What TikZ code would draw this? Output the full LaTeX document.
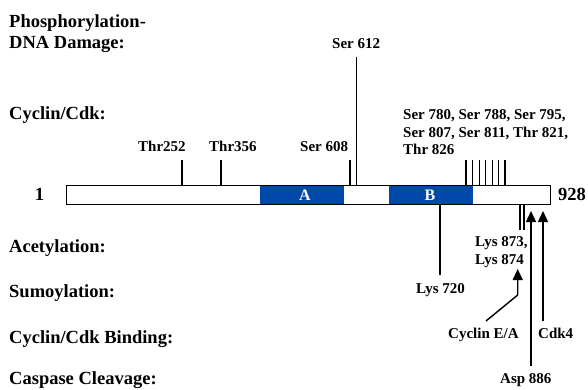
\documentclass[tikz,border=0pt]{standalone}
\usepackage{fontspec}
\setmainfont{Liberation Serif}
\usetikzlibrary{arrows.meta}
\definecolor{domainblue}{RGB}{0,72,170}
\tikzset{
  big/.style={font=\bfseries\fontsize{18.5}{21}\selectfont, inner sep=0pt, anchor=base west},
  small/.style={font=\bfseries\fontsize{15}{17.5}\selectfont, inner sep=0pt},
  tick/.style={line width=1.4pt},
  protbox/.style={fill=domainblue, inner sep=0pt, minimum height=19pt, anchor=north west},
  boxlab/.style={text=white, font=\bfseries\fontsize{16}{18}\selectfont, inner sep=0pt, anchor=base},
  arr/.style={line width=1.4pt, -{Triangle[length=11pt,width=10pt]}}
}
\begin{document}
\begin{tikzpicture}[x=1pt,y=-1pt]
\useasboundingbox (0,0) rectangle (588,389);
% left labels
\node[big] (phos) at (9,27) {Phosphorylation-};
\node[big] (dna) at (9,48) {DNA Damage:};
\node[big] (cdk) at (9,119) {Cyclin/Cdk:};
\node[big] (acet) at (9,252) {Acetylation:};
\node[big] (sumo) at (9,297) {Sumoylation:};
\node[big] (bind) at (9,343) {Cyclin/Cdk Binding:};
\node[big] (casp) at (9,384.5) {Caspase Cleavage:};
% bar and domains
\node[protbox, minimum width=84pt] (A) at (260,185) {};
\node[protbox, minimum width=84pt] (B) at (389,185) {};
\node[boxlab] (Alab) at (305,200) {A};
\node[boxlab] (Blab) at (430,200) {B};
\node[draw, line width=1.3pt, minimum width=484pt, minimum height=19pt, inner sep=0pt, anchor=north west] (bar) at (66,185) {};
\node[big, anchor=base] (one) at (39.5,200) {1};
\node[big] (end) at (558,200) {928};
% upper ticks
\foreach \n/\x/\t in {t252/182/160, t356/221/160, s608/350/160, s612/356.7/57,
  m1/466/160, m2/472.7/160, m3/479.3/160, m4/485.7/160, m5/492.3/160, m6/498.7/160, m7/505/160} {
  \coordinate (\n-b) at (\x,185);
  \coordinate (\n-t) at (\x,\t);
  \draw[tick] (\n-b) -- (\n-t);
}
\node[small, anchor=base west] (lt252) at (138,151) {Thr252};
\node[small, anchor=base west] (lt356) at (209,151) {Thr356};
\node[small, anchor=base west] (ls608) at (300,151) {Ser 608};
\node[small, anchor=base west] (ls612) at (332,48) {Ser 612};
\node[small, anchor=north west, align=left] (lmulti) at (403,109.7) {Ser 780, Ser 788, Ser 795,\\Ser 807, Ser 811, Thr 821,\\Thr 826};
% lower ticks
\foreach \n/\x/\t in {k720/440/275, k873/520/230, k874/524/230} {
  \coordinate (\n-b) at (\x,204);
  \coordinate (\n-t) at (\x,\t);
  \draw[tick] (\n-b) -- (\n-t);
}
\node[small, anchor=base west] (lk720) at (416,293) {Lys 720};
\node[small, anchor=north west, align=left, font=\bfseries\fontsize{15}{18}\selectfont] (lk873) at (475,236.7) {Lys 873,\\Lys 874};
% arrows
\coordinate (cyc-s) at (486,321);
\coordinate (cyc-m) at (517.7,295);
\coordinate (cyc-t) at (517.7,269);
\draw[arr] (cyc-s) -- (cyc-m) -- (cyc-t);
\coordinate (asp-s) at (531,366);
\coordinate (asp-t) at (531,211);
\draw[arr] (asp-s) -- (asp-t);
\coordinate (cdk4-s) at (543,321);
\coordinate (cdk4-t) at (543,211);
\draw[arr] (cdk4-s) -- (cdk4-t);
\node[small, anchor=base west] (lcyc) at (448,338) {Cyclin E/A};
\node[small, anchor=base west] (lcdk4) at (538,338) {Cdk4};
\node[small, anchor=base west] (lasp) at (500,383) {Asp 886};
\end{tikzpicture}
\end{document}
